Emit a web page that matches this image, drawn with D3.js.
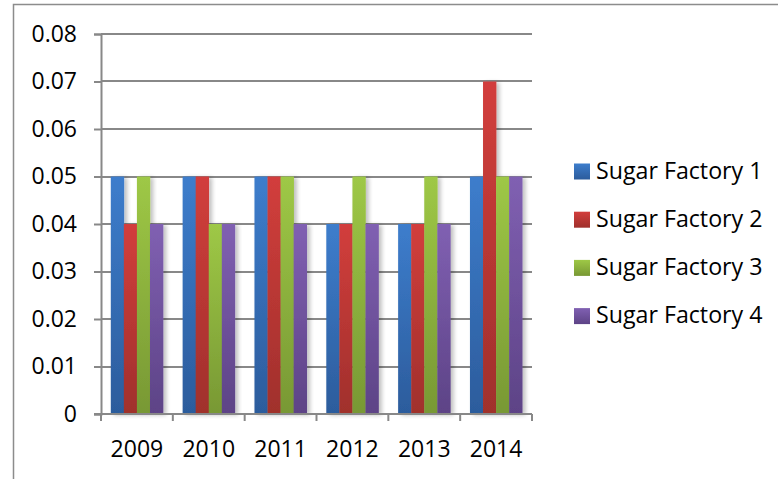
<!DOCTYPE html>
<html><head><meta charset="utf-8">
<script src="https://cdn.jsdelivr.net/npm/d3@7"></script>
<style>body{margin:0;background:#fff}svg{display:block}text{font-family:"Open Sans",Lato,sans-serif;fill:#000}</style>
</head><body><svg id="c" width="778" height="479"></svg>
<script>
const years = ["2009","2010","2011","2012","2013","2014"];
const seriesNames = ["Sugar Factory 1","Sugar Factory 2","Sugar Factory 3","Sugar Factory 4"];
const factory1 = [0.05,0.05,0.05,0.04,0.04,0.05];
const factory2 = [0.04,0.05,0.05,0.04,0.04,0.07];
const factory3 = [0.05,0.04,0.05,0.05,0.05,0.05];
const factory4 = [0.04,0.04,0.04,0.04,0.04,0.05];
const yTicks = [0,0.01,0.02,0.03,0.04,0.05,0.06,0.07,0.08];
const colorsTop = ["#3d7dcc","#d23e3c","#9ec846","#8060b2"];
const colorsBot = ["#2c5c9c","#a0302c","#789834","#5d4386"];

(function(){
const svg = d3.select("#c");
const allSeries = [factory1,factory2,factory3,factory4];
const defs = svg.append("defs");
colorsTop.forEach((c,i)=>{
  const g = defs.append("linearGradient").attr("id","g"+i).attr("x1",0).attr("y1",0).attr("x2",0).attr("y2",1);
  g.append("stop").attr("offset","0%").attr("stop-color",c);
  g.append("stop").attr("offset","100%").attr("stop-color",colorsBot[i]);
});
const f = defs.append("filter").attr("id","sh").attr("x","-50%").attr("y","-10%").attr("width","200%").attr("height","120%");
f.append("feGaussianBlur").attr("in","SourceAlpha").attr("stdDeviation",2);
f.append("feOffset").attr("dx",3).attr("dy",1).attr("result","b");
f.append("feComponentTransfer").append("feFuncA").attr("type","linear").attr("slope",0.25);
const fm = f.append("feMerge"); fm.append("feMergeNode"); fm.append("feMergeNode").attr("in","SourceGraphic");

// chart border
svg.append("rect").attr("x",13.5).attr("y",4.5).attr("width",800).attr("height",500).attr("fill","none").attr("stroke","#8c8c8c").attr("stroke-width",1.5);

const pl=101, pr=532, pt=34, pb=414;
const y = d3.scaleLinear().domain([0,0.08]).range([pb,pt]);
const x0 = d3.scaleBand().domain(years).range([pl,pr]).paddingInner(1.5/5.5).paddingOuter(0.75/5.5);
const x1 = d3.scaleBand().domain(d3.range(4)).range([0,x0.bandwidth()]);

// gridlines
svg.append("g").selectAll("line").data(yTicks.slice(1)).join("line")
  .attr("x1",pl).attr("x2",pr).attr("y1",d=>Math.round(y(d))).attr("y2",d=>Math.round(y(d)))
  .attr("stroke","#888").attr("stroke-width",2);

// bars
const groups = svg.append("g").selectAll("g").data(years).join("g").attr("transform",d=>`translate(${x0(d)},0)`);
groups.selectAll("rect").data((d,i)=>allSeries.map((s,k)=>({k,v:s[i]}))).join("rect")
  .attr("x",d=>x1(d.k)).attr("width",x1.bandwidth()+0.3)
  .attr("y",d=>y(d.v)).attr("height",d=>pb-y(d.v))
  .attr("fill",d=>`url(#g${d.k})`).attr("filter","url(#sh)");

// y axis
const ya = svg.append("g").attr("transform",`translate(${pl},0)`)
  .call(d3.axisLeft(y).tickValues(yTicks).tickFormat(d=>d===0?"0":d3.format(".2f")(d)).tickSize(7).tickPadding(17));
ya.select(".domain").attr("stroke","#888").attr("stroke-width",2);
ya.selectAll(".tick line").attr("stroke","#888").attr("stroke-width",2);
ya.selectAll("text").attr("font-size",23).attr("fill","#000").attr("font-family","Open Sans");

// x axis
const xa = svg.append("g").attr("transform",`translate(0,${pb})`);
xa.append("line").attr("x1",pl-7).attr("x2",pr).attr("y1",0).attr("y2",0).attr("stroke","#888").attr("stroke-width",2);
const bounds = d3.range(7).map(i=>pl+(pr-pl)*i/6);
xa.selectAll("line.t").data(bounds).join("line").attr("class","t")
  .attr("x1",d=>d).attr("x2",d=>d).attr("y1",0).attr("y2",7).attr("stroke","#888").attr("stroke-width",2);
xa.selectAll("text").data(years).join("text")
  .attr("x",d=>x0(d)+x0.bandwidth()/2).attr("y",43).attr("text-anchor","middle").attr("font-size",23).text(d=>d);

// legend
const lg = svg.append("g").selectAll("g").data(seriesNames).join("g")
  .attr("transform",(d,i)=>`translate(574,${170.5+i*48.2})`);
lg.append("rect").attr("x",0).attr("y",-7).attr("width",16).attr("height",16).attr("fill",(d,i)=>`url(#g${i})`);
lg.append("text").attr("x",22).attr("y",0).attr("dy","0.36em").attr("font-size",23.2).text(d=>d);
})();
</script></body></html>
